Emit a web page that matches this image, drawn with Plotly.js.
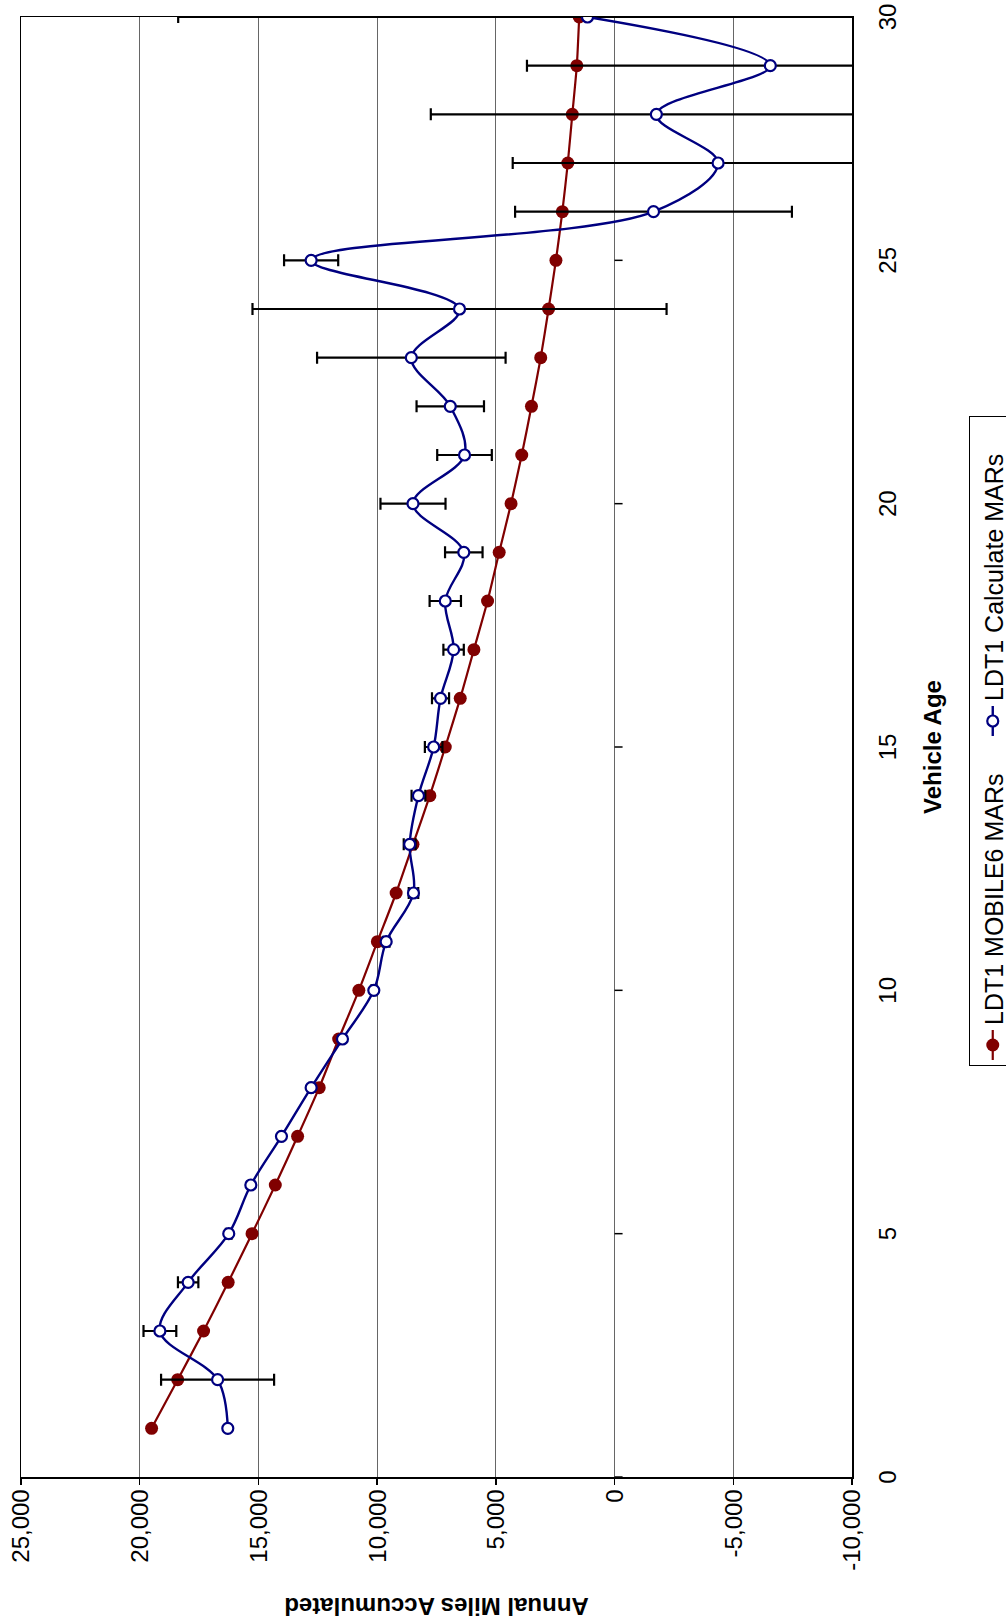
<!DOCTYPE html>
<html>
<head>
<meta charset="utf-8">
<script src="https://cdn.plot.ly/plotly-3.0.1.min.js"></script>
<style>
html, body { margin: 0; padding: 0; overflow: hidden; background: #fff; width: 1006px; height: 1623px; }
#chart { position: absolute; left: 0; top: 0; width: 1623px; height: 1006px;
  transform-origin: 0 0; transform: translate(0px, 1623px) rotate(-90deg); }
</style>
</head>
<body>
<div id="chart"></div>
<script>
// Vehicle age categories
var ages = [1,2,3,4,5,6,7,8,9,10,11,12,13,14,15,16,17,18,19,20,21,22,23,24,25,26,27,28,29,30];
// LDT1 MOBILE6 MARs
var mobile6Mars = [19500,18400,17310,16275,15270,14290,13350,12440,11620,10770,9990,9200,8490,7780,7130,6500,5925,5350,4860,4360,3910,3500,3110,2780,2470,2200,1970,1780,1590,1490];
// LDT1 Calculate MARs
var calculatedMars = [16290,16720,19150,17960,16250,15320,14030,12780,11460,10140,9620,8470,8630,8260,7620,7330,6780,7130,6350,8490,6320,6920,8560,6530,12780,-1640,-4360,-1760,-6560,1140];
// error bar half-widths for calculated MARs
var calculatedErr = [null,2380,690,430,120,60,60,60,60,100,140,200,250,290,370,360,430,660,790,1370,1150,1420,3970,8720,1140,5830,8650,9500,10250,17240];
// axis ticks
var ageTicks = [0,5,10,15,20,25,30];
var milesTicks = [-10000,-5000,0,5000,10000,15000,20000,25000];
var milesTickText = ['-10,000','-5,000','0','5,000','10,000','15,000','20,000','25,000'];

var FONT = 'Liberation Sans, Arial, Helvetica, sans-serif';

var traces = [
  {
    x: ages, y: mobile6Mars, type: 'scatter', mode: 'lines+markers',
    name: 'LDT1 MOBILE6 MARs',
    line: {color: '#800000', width: 2.2, shape: 'spline', smoothing: 0.6},
    marker: {symbol: 'circle', size: 13, color: '#800000', line: {width: 0}}
  },
  {
    x: ages, y: calculatedMars, type: 'scatter', mode: 'lines+markers',
    name: 'LDT1 Calculate MARs',
    line: {color: '#000080', width: 2.4, shape: 'spline', smoothing: 1},
    marker: {symbol: 'circle', size: 11, color: '#ffffff', line: {color: '#000080', width: 2.2}},
    error_y: {type: 'data', array: calculatedErr, visible: true, color: '#000000', thickness: 2.2, width: 6}
  }
];

// category-axis tick marks sitting on the zero-miles line (axis crosses at 0)
var zeroLineTicks = ageTicks.map(function (a) {
  return {type: 'line', xref: 'x', yref: 'y', x0: a, x1: a,
          ysizemode: 'pixel', yanchor: 0, y0: 0, y1: -8,
          line: {color: '#000', width: 1.5}, layer: 'above'};
});

var layout = {
  width: 1623, height: 1006,
  margin: {l: 146, r: 17, t: 21, b: 154, pad: 0},
  paper_bgcolor: '#ffffff', plot_bgcolor: '#ffffff',
  font: {family: FONT, size: 24, color: '#000'},
  showlegend: true,
  legend: {
    orientation: 'h', xref: 'container', yref: 'container',
    x: 0.3432, y: 1 - 969/1006, xanchor: 'left', yanchor: 'top',
    entrywidth: 279, entrywidthmode: 'pixels',
    bgcolor: '#ffffff', bordercolor: '#000000', borderwidth: 1,
    font: {family: FONT, size: 25, color: '#000'}, traceorder: 'normal'
  },
  shapes: zeroLineTicks,
  xaxis: {
    range: [0, 30], tickmode: 'array', tickvals: ageTicks,
    ticks: 'outside', ticklen: 14, tickcolor: 'rgba(0,0,0,0)',
    showgrid: false, zeroline: false,
    showline: true, linecolor: '#000', linewidth: 1.5, mirror: true,
    tickfont: {family: FONT, size: 24, color: '#000'},
    title: {text: 'Vehicle Age', font: {family: FONT, size: 24, weight: 'bold', color: '#000'}, standoff: 24}
  },
  yaxis: {
    range: [-10000, 25000], tickmode: 'array', tickvals: milesTicks, ticktext: milesTickText,
    ticks: 'outside', ticklen: 6, tickwidth: 1.5, tickcolor: '#000',
    showgrid: true, gridcolor: '#666666', gridwidth: 1.2, zeroline: false,
    showline: true, linecolor: '#000', linewidth: 1.5, mirror: true,
    tickfont: {family: FONT, size: 24, color: '#000'},
    title: {text: 'Annual Miles Accumulated', font: {family: FONT, size: 24, weight: 'bold', color: '#000'}, standoff: 20}
  }
};

Plotly.newPlot('chart', traces, layout, {staticPlot: true, displayModeBar: false});
</script>
</body>
</html>
